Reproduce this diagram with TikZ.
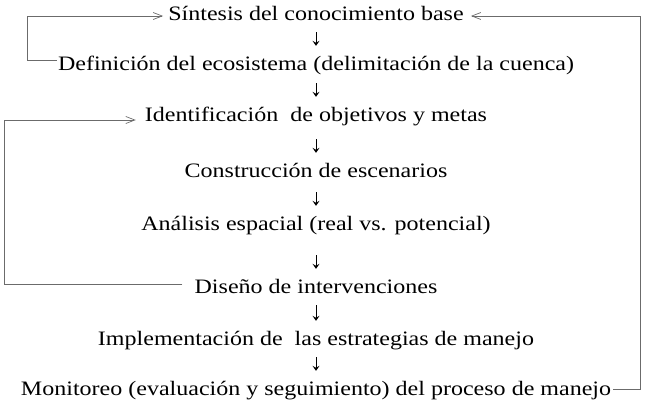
\documentclass[tikz,border=0pt]{standalone}
\usepackage{fontspec}
\setmainfont{Liberation Serif}[FakeStretch=1.2]
\usetikzlibrary{arrows.meta}
\begin{document}
\begin{tikzpicture}[x=1pt,y=-1pt,
  stepnode/.style={anchor=base,inner xsep=0pt,inner ysep=0pt,text height=14pt,text depth=4pt,font=\fontsize{20.5}{24}\selectfont},
  loopline/.style={draw=black!58,line width=0.8pt},
  looparrow/.style={loopline,-{Straight Barb[length=9pt,width=7pt,line width=0.7pt]}},
  dnarrow/.style={draw=black,line width=0.9pt,-{Stealth[length=5pt,width=7pt,inset=2pt]},shorten >=10pt}]
\useasboundingbox (0,0) rectangle (650,410);
\node[stepnode,xscale=0.976] (n1) at (316,20) {Síntesis del conocimiento base};
\node[stepnode,xscale=0.976] (n2) at (316,70) {Definición del ecosistema (delimitación de la cuenca)};
\node[stepnode,xscale=0.976] (n3) at (316,121) {Identificación~ de objetivos y metas};
\node[stepnode,xscale=0.976] (n4) at (316,177) {Construcción de escenarios};
\node[stepnode,xscale=0.976] (n5) at (316,230) {Análisis espacial (real vs. potencial)};
\node[stepnode,xscale=0.976] (n6) at (316,293) {Diseño de intervenciones};
\node[stepnode,xscale=0.976] (n7) at (316,345) {Implementación de~ las estrategias de manejo};
\node[stepnode,xscale=0.976] (n8) at (316,395) {Monitoreo (evaluación y seguimiento) del proceso de manejo};
\coordinate (L1) at (27,0);
\coordinate (L2) at (4,0);
\coordinate (R1) at (640,0);
% down arrows
\draw[dnarrow,shorten <=8pt] (n1.south) -- (n2.north);
\draw[dnarrow,shorten <=9pt] (n2.south) -- (n3.north);
\draw[dnarrow,shorten <=14pt] (n3.south) -- (n4.north);
\draw[dnarrow,shorten <=11pt] (n4.south) -- (n5.north);
\draw[dnarrow,shorten <=21pt] (n5.south) -- (n6.north);
\draw[dnarrow,shorten <=8pt] (n6.south) -- (n7.north);
\draw[dnarrow,shorten <=8pt] (n7.south) -- (n8.north);
% loops
\draw[looparrow] ([xshift=-1pt,yshift=5pt]n2.west) -- ([yshift=5pt]n2.west -| L1) |- ([xshift=-5pt,yshift=-1pt]n1.west);
\draw[looparrow] ([xshift=-12pt,yshift=4pt]n6.west) -- ([yshift=4pt]n6.west -| L2) |- ([xshift=-9pt,yshift=-4pt]n3.west);
\draw[looparrow] ([xshift=2pt,yshift=1pt]n8.east) -- ([yshift=1pt]n8.east -| R1) |- ([xshift=7pt,yshift=-1pt]n1.east);
\end{tikzpicture}
\end{document}
